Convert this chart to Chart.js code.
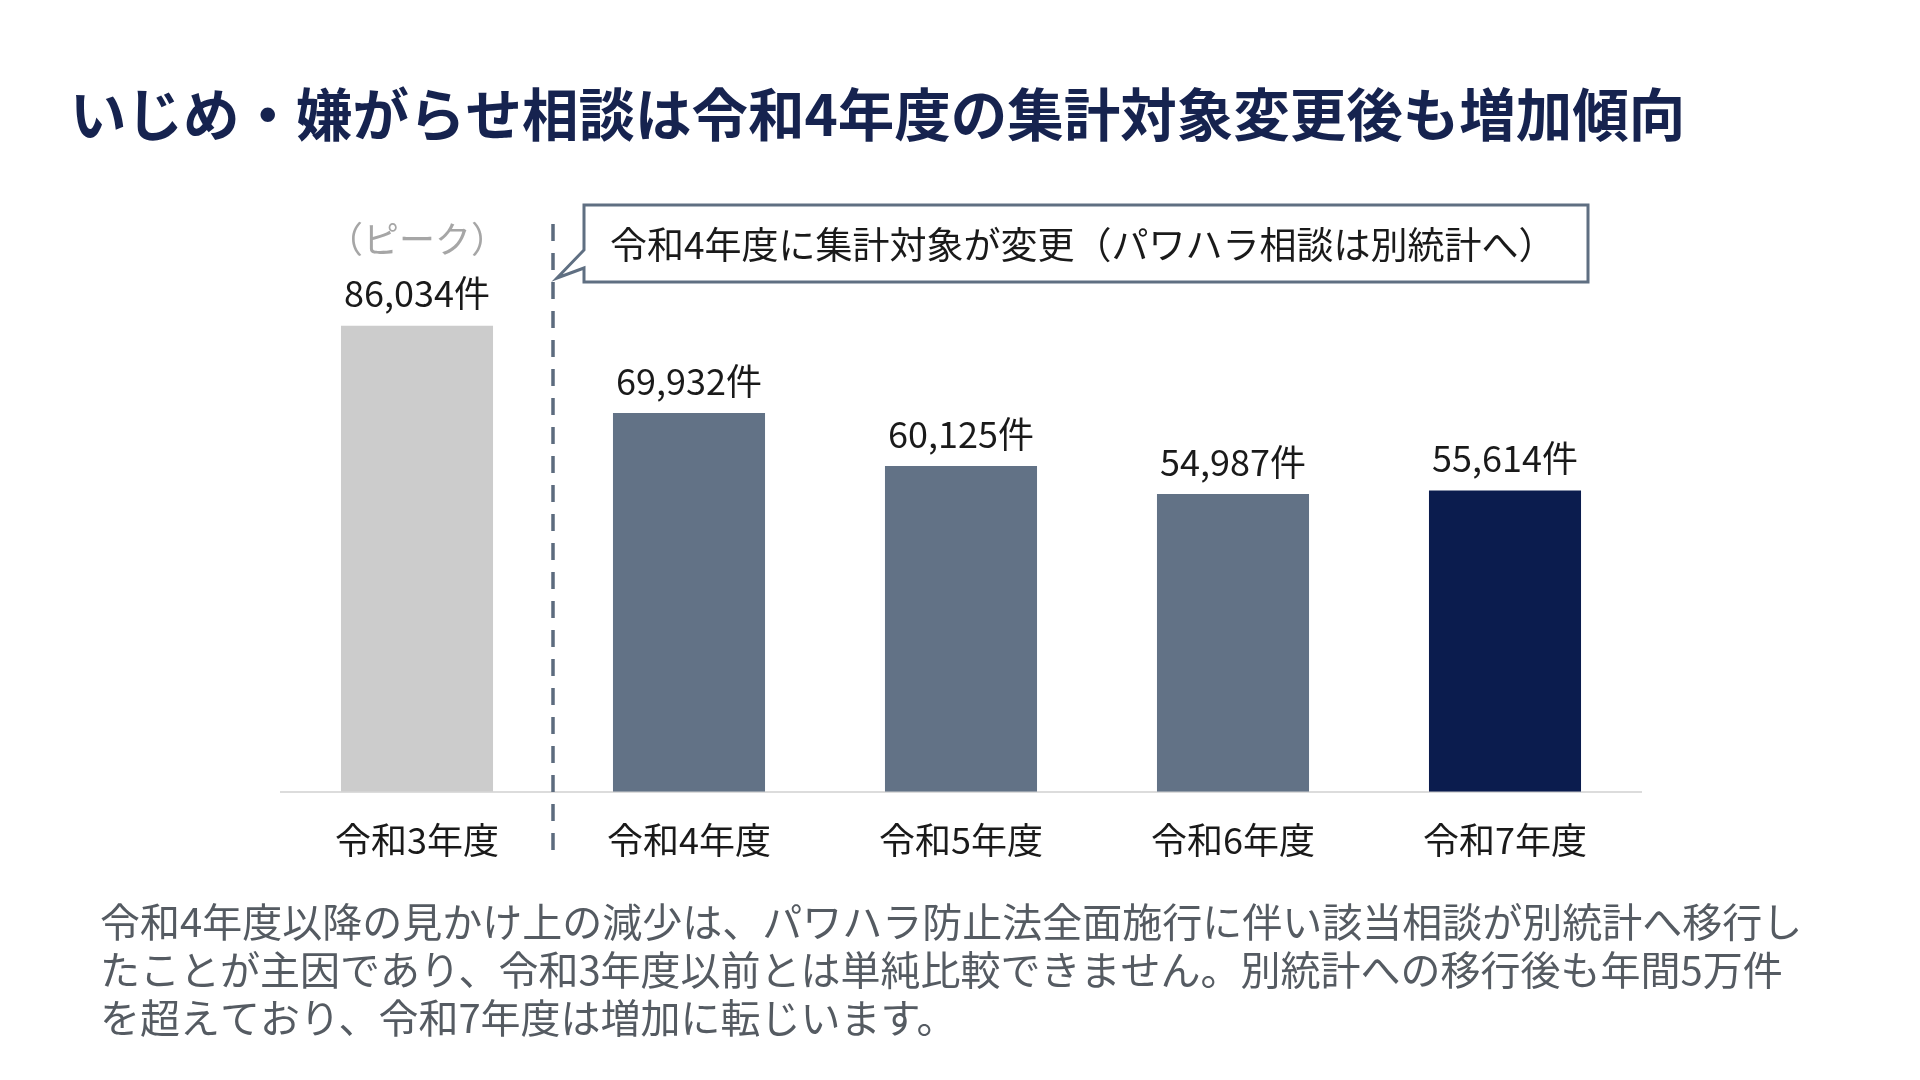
<!DOCTYPE html>
<html lang="ja">
<head>
<meta charset="utf-8">
<title>いじめ・嫌がらせ相談</title>
<script src="https://cdn.jsdelivr.net/npm/chart.js@4.4.1/dist/chart.umd.min.js"></script>
<style>
  html, body { margin: 0; padding: 0; background: #ffffff; }
  #wrap { width: 1920px; height: 1080px; position: relative; }
</style>
</head>
<body>
<div id="wrap"><canvas id="myChart"></canvas></div>
<script>
// data
var categories = ['令和3年度', '令和4年度', '令和5年度', '令和6年度', '令和7年度'];
var counts = [86034, 69932, 60125, 54987, 55614];
var unit = '件';
var peakNote = '（ピーク）';
var titleText = 'いじめ・嫌がらせ相談は令和4年度の集計対象変更後も増加傾向';
var calloutText = '令和4年度に集計対象が変更（パワハラ相談は別統計へ）';
var noteLines = [
    '令和4年度以降の見かけ上の減少は、パワハラ防止法全面施行に伴い該当相談が別統計へ移行し',
    'たことが主因であり、令和3年度以前とは単純比較できません。別統計への移行後も年間5万件',
    'を超えており、令和7年度は増加に転じいます。'
];

var barColors = ['#cccccc', '#627286', '#627286', '#627286', '#0b1c4e'];
var FONT = '"Noto Sans CJK JP", "Noto Sans", sans-serif';

var overlay = {
    id: 'overlay',
    afterDraw: function(chart) {
        var ctx = chart.ctx;
        var meta = chart.getDatasetMeta(0);
        var xs = chart.scales.x;
        ctx.save();

        // title
        ctx.font = 'bold 56.5px ' + FONT;
        ctx.fillStyle = '#16234f';
        ctx.textAlign = 'left';
        ctx.textBaseline = 'middle';
        ctx.fillText(titleText, 70, 115);

        // value labels
        ctx.font = '36px ' + FONT;
        ctx.textAlign = 'center';
        ctx.fillStyle = '#1a1a1a';
        meta.data.forEach(function(bar, i) {
            ctx.fillText(counts[i].toLocaleString('en-US') + unit, bar.x, bar.y - 32);
        });
        ctx.fillStyle = '#a6a6a6';
        ctx.fillText(peakNote, meta.data[0].x, meta.data[0].y - 86);

        // dashed divider between R3 and R4
        var xd = (xs.getPixelForValue(0) + xs.getPixelForValue(1)) / 2;
        ctx.strokeStyle = '#5c6b7e';
        ctx.lineWidth = 3.5;
        ctx.setLineDash([17, 12]);
        ctx.beginPath();
        ctx.moveTo(xd, 224);
        ctx.lineTo(xd, 852);
        ctx.stroke();
        ctx.setLineDash([]);

        // callout box with tail
        var bx = 584, by = 205, bw = 1004, bh = 77;
        ctx.beginPath();
        ctx.moveTo(bx, by);
        ctx.lineTo(bx + bw, by);
        ctx.lineTo(bx + bw, by + bh);
        ctx.lineTo(bx, by + bh);
        ctx.lineTo(bx, by + 63);
        ctx.lineTo(xd + 4, by + 73);
        ctx.lineTo(bx, by + 45);
        ctx.closePath();
        ctx.fillStyle = '#ffffff';
        ctx.fill();
        ctx.strokeStyle = '#5f6f82';
        ctx.lineWidth = 3;
        ctx.lineJoin = 'miter';
        ctx.stroke();
        ctx.font = '37px ' + FONT;
        ctx.fillStyle = '#1a1a1a';
        ctx.textAlign = 'left';
        ctx.fillText(calloutText, 610, by + bh / 2 + 1);

        // footnote
        ctx.font = '40px ' + FONT;
        ctx.fillStyle = '#555b62';
        noteLines.forEach(function(line, i) {
            ctx.fillText(line, 100, 922 + i * 48);
        });
        ctx.restore();
    }
};

var ctx = document.getElementById('myChart').getContext('2d');
var myChart = new Chart(ctx, {
    type: 'bar',
    data: {
        labels: categories,
        datasets: [{
            label: 'いじめ・嫌がらせ相談件数',
            data: counts,
            backgroundColor: barColors,
            borderWidth: 0,
            barPercentage: 0.559,
            categoryPercentage: 1.0
        }]
    },
    options: {
        responsive: true,
        maintainAspectRatio: false,
        animation: false,
        devicePixelRatio: 1,
        layout: {
            // x axis is 27*2 padding + 43 label tall, so baseline lands near y=792
            padding: { left: 281, right: 279, top: 250, bottom: 191 }
        },
        plugins: {
            legend: { display: false },
            tooltip: { enabled: false },
            title: { display: false }
        },
        scales: {
            x: {
                grid: { display: false, drawTicks: false },
                border: { display: true, color: '#dcdcdc', width: 2 },
                ticks: {
                    color: '#1a1a1a',
                    padding: 27,
                    font: { family: FONT, size: 36 }
                }
            },
            y: {
                display: false,
                min: 0,
                max: 100000
            }
        }
    },
    plugins: [overlay]
});
</script>
</body>
</html>
